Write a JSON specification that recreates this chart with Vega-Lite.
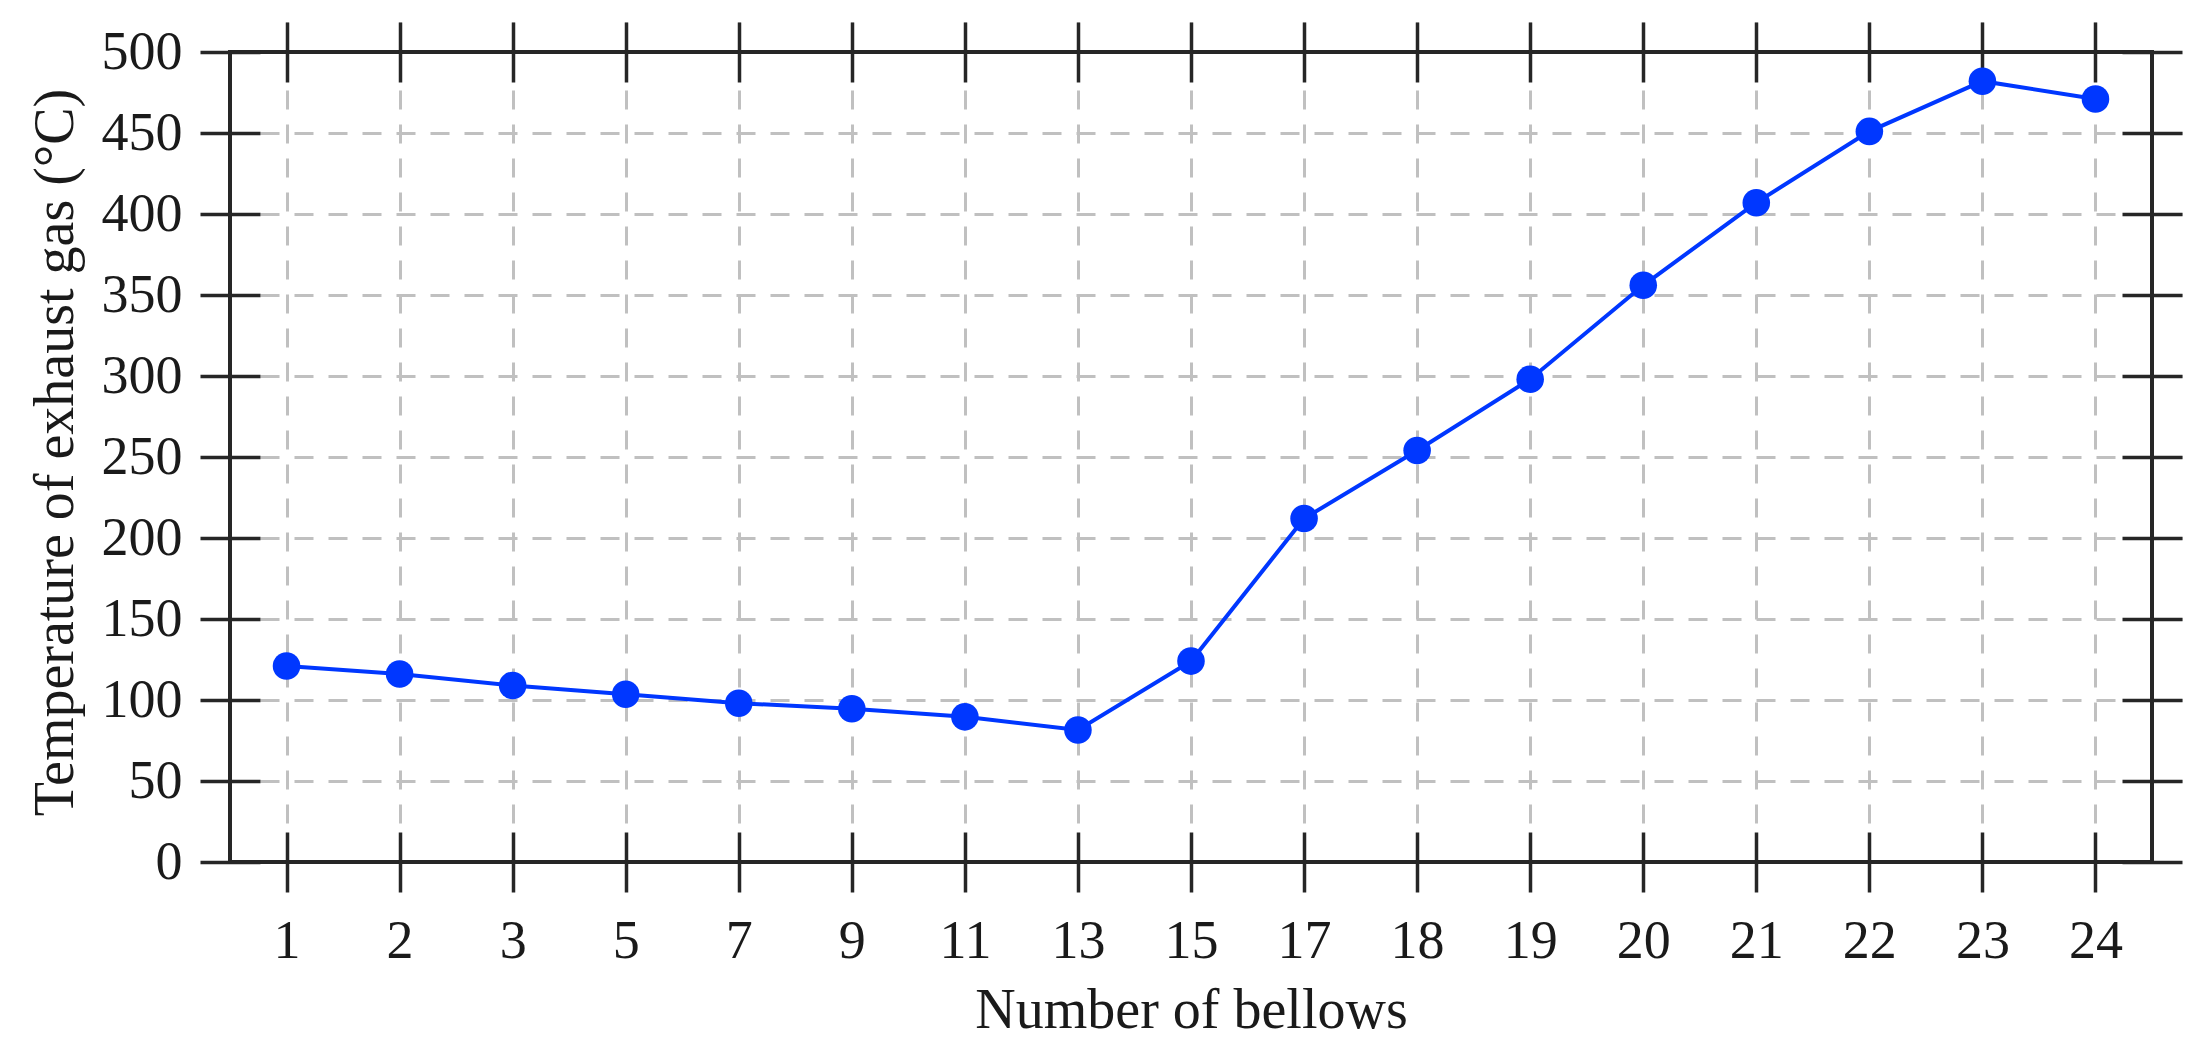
{
  "$schema": "https://vega.github.io/schema/vega-lite/v6.json",
  "width": 1922,
  "height": 810,
  "autosize": {"type": "none"},
  "padding": {"left": 230, "top": 52, "right": 58, "bottom": 193},
  "background": "white",
  "config": {
    "view": {"stroke": "#262626", "strokeWidth": 4},
    "axis": {
      "labelFont": "Liberation Serif",
      "titleFont": "Liberation Serif",
      "labelFontSize": 54,
      "titleFontSize": 56,
      "titleFontWeight": "normal",
      "labelColor": "#1a1a1a",
      "titleColor": "#1a1a1a",
      "domain": false,
      "offset": -30,
      "tickSize": 60,
      "tickWidth": 3.5,
      "tickColor": "#262626",
      "gridColor": "#c0c0c0",
      "gridWidth": 3,
      "gridDash": [19, 15]
    }
  },
  "data": {
    "values": [
      {"bellows": 1, "temp": 121},
      {"bellows": 2, "temp": 116},
      {"bellows": 3, "temp": 109},
      {"bellows": 5, "temp": 103.5},
      {"bellows": 7, "temp": 98},
      {"bellows": 9, "temp": 94.6},
      {"bellows": 11, "temp": 89.6},
      {"bellows": 13, "temp": 81.5},
      {"bellows": 15, "temp": 124},
      {"bellows": 17, "temp": 212},
      {"bellows": 18, "temp": 254},
      {"bellows": 19, "temp": 298},
      {"bellows": 20, "temp": 356},
      {"bellows": 21, "temp": 407},
      {"bellows": 22, "temp": 451},
      {"bellows": 23, "temp": 482},
      {"bellows": 24, "temp": 471}
    ]
  },
  "layer": [
    {
      "mark": {"type": "line", "color": "#0037ff", "strokeWidth": 4},
      "encoding": {
        "x": {
          "field": "bellows",
          "type": "ordinal",
          "scale": {"type": "point", "padding": 0.5},
          "axis": {
            "orient": "bottom",
            "title": "Number of bellows",
            "labelAngle": 0,
            "labelPadding": 22,
            "grid": true,
            "titleY": 195,
            "titleBaseline": "alphabetic"
          }
        },
        "y": {
          "field": "temp",
          "type": "quantitative",
          "scale": {"domain": [0, 500], "nice": false, "zero": true},
          "axis": {
            "orient": "left",
            "title": "Temperature of exhaust gas (°C)",
            "values": [0, 50, 100, 150, 200, 250, 300, 350, 400, 450, 500],
            "labelPadding": 18,
            "grid": true,
            "gridOpacity": {
              "condition": {"test": "datum.value === 0 || datum.value === 500", "value": 0},
              "value": 1
            },
            "titleX": -188,
            "titleY": 400,
            "titleBaseline": "alphabetic"
          }
        }
      }
    },
    {
      "mark": {"type": "point", "filled": true, "opacity": 1, "size": 760, "color": "#0037ff"},
      "encoding": {
        "x": {
          "field": "bellows",
          "type": "ordinal",
          "axis": {"orient": "top", "title": null, "labels": false, "grid": false}
        },
        "y": {
          "field": "temp",
          "type": "quantitative",
          "axis": {
            "orient": "right",
            "title": null,
            "labels": false,
            "grid": false,
            "values": [0, 50, 100, 150, 200, 250, 300, 350, 400, 450, 500]
          }
        }
      }
    }
  ],
  "resolve": {"axis": {"x": "independent", "y": "independent"}}
}
